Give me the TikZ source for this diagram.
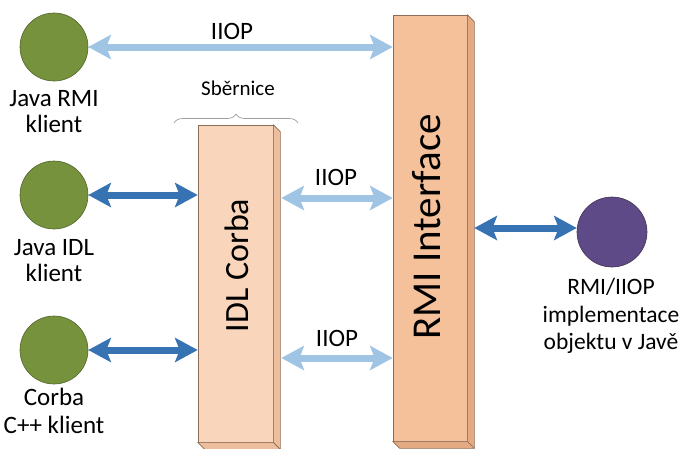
\documentclass[tikz,border=0pt]{standalone}
\usepackage{fontspec}
\setmainfont{Carlito}
\usetikzlibrary{arrows.meta,calc,decorations.pathreplacing}

\definecolor{clientgreen}{RGB}{119,146,60}
\definecolor{clientedge}{RGB}{79,98,40}
\definecolor{implpurple}{RGB}{93,74,134}
\definecolor{impledge}{RGB}{63,49,81}
\definecolor{idlfront}{RGB}{249,213,187}
\definecolor{idlside}{RGB}{236,190,158}
\definecolor{rmifront}{RGB}{244,193,155}
\definecolor{rmiside}{RGB}{228,170,130}
\definecolor{boxedge}{RGB}{140,110,88}
\definecolor{iioplight}{RGB}{160,196,228}
\definecolor{linkdark}{RGB}{55,115,178}

\begin{document}
\begin{tikzpicture}[x=1pt, y=-1pt,
    client/.style={circle, draw=clientedge, fill=clientgreen, minimum size=68pt, inner sep=0pt, line width=0.6pt},
    impl/.style={client, draw=impledge, fill=implpurple, minimum size=70pt},
    lbl/.style={align=center, font=\fontsize{25}{26}\selectfont},
    slab/.style={draw=boxedge, line width=0.7pt, minimum width=75pt, inner sep=0pt},
    slabside/.style={draw=boxedge, line width=0.7pt, line join=round},
    iiop/.style={line width=7pt, iioplight,
        {Stealth[length=23pt,width=25pt,inset=5pt,line width=0pt]}-{Stealth[length=23pt,width=25pt,inset=5pt,line width=0pt]}},
    link/.style={iiop, linkdark}
]
    \useasboundingbox (0,0) rectangle (683,448);

    % Clients on the left, object implementation on the right
    \node[client] (jrmi) at (54,47) {};
    \node[client] (jidl) at (54,195) {};
    \node[client] (corba) at (54,350) {};
    \node[impl] (impl) at (612,232) {};

    \node[lbl] (jrmilbl) at (54,112) {Java RMI\\klient};
    \node[lbl] (jidllbl) at (54,261) {Java IDL\\klient};
    \node[lbl, font=\fontsize{25}{28}\selectfont] (corbalbl) at (54,411) {Corba\\C++ klient};
    \node[lbl, font=\fontsize{23.5}{27.5}\selectfont] (impllbl) at (611,316) {RMI/IIOP\\implementace\\objektu v Javě};

    % IDL bus slab
    \node[slab, fill=idlfront, minimum height=317pt] (idl) at (235.5,283.5) {};
    \filldraw[slabside, fill=idlside] (idl.north east) -- ++(7,7) -- ($(idl.south east)+(7,7)$) -- (idl.south east) -- cycle;
    \filldraw[slabside, fill=idlside] (idl.south west) -- ++(7,7) -- ($(idl.south east)+(7,7)$) -- (idl.south east) -- cycle;
    \node[rotate=90, font=\fontsize{34}{40}\selectfont] (idltxt) at ($(idl.center)+(1,-18)$) {IDL Corba};

    % RMI interface slab
    \node[slab, fill=rmifront, minimum width=74pt, minimum height=426pt] (rmi) at (430,228) {};
    \filldraw[slabside, fill=rmiside] (rmi.north east) -- ++(7,7) -- ($(rmi.south east)+(7,7)$) -- (rmi.south east) -- cycle;
    \filldraw[slabside, fill=rmiside] (rmi.south west) -- ++(7,7) -- ($(rmi.south east)+(7,7)$) -- (rmi.south east) -- cycle;
    \node[rotate=90, font=\fontsize{41}{46}\selectfont] (rmitxt) at ($(rmi.center)+(-3,-1)$) {RMI Interface};

    % Bus brace
    \draw[decorate, decoration={brace, amplitude=9pt}, draw=gray!75, line width=0.7pt] (174,123) -- (298,123);
    \node[font=\fontsize{21}{24}\selectfont] (bus) at (238,88) {Sběrnice};

    \coordinate (idlback) at ($(idl.north east)+(8,0)$);
    \coordinate (rmiback) at ($(rmi.north east)+(7,0)$);

    % Connections
    \draw[iiop] (jrmi.east) -- (rmi.west |- jrmi.east);
    \draw[link] (jidl.east) -- (idl.west |- jidl.east);
    \draw[link] (corba.east) -- (idl.west |- corba.east);
    \draw[iiop] (idlback |- 0,198) -- (rmi.west |- 0,198);
    \draw[iiop] (idlback |- 0,358) -- (rmi.west |- 0,358);
    \draw[link] (rmiback |- 0,228) -- (impl.west |- 0,228);

    \node[lbl] (iiop1) at (232,31) {IIOP};
    \node[lbl] (iiop2) at (336,177) {IIOP};
    \node[lbl] (iiop3) at (337,338) {IIOP};
\end{tikzpicture}
\end{document}
